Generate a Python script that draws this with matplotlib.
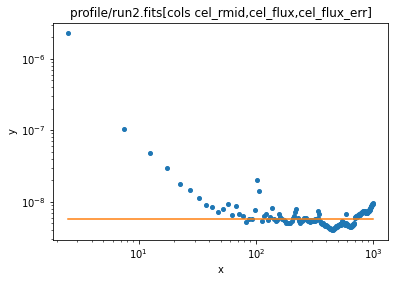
import numpy as np
import matplotlib
matplotlib.use("Agg")
import matplotlib.pyplot as plt

# bin centres (cel_rmid): 5 px wide annuli starting at 0
rmid = np.arange(2.5, 1000.0, 5.0)

# cel_flux, in units of 1e-9
flux_e9 = [
    2300, 105, 48, 29.5, 17.6, 14.8, 11.1, 8.9, 8.5, 7.1,       # 2.5 - 47.5
    8.0, 9.4, 6.6, 8.6, 6.8, 6.4, 5.2, 5.7, 5.8, 7.6,           # 52.5 - 97.5
    20.0, 13.9, 5.4, 6.3, 6.8, 5.5, 6.2, 8.2, 5.8, 5.4,         # 102.5 - 147.5
    5.6, 6.8, 6.1, 5.7, 5.5, 5.4, 5.1, 5.0, 5.0, 5.1,           # 152.5 - 197.5
    5.3, 5.9, 6.3, 7.2, 8.0, 6.0, 5.3, 5.0, 5.3, 5.4,           # 202.5 - 247.5
    5.6, 5.9, 5.7, 5.9, 5.6, 5.3, 5.3, 5.5, 5.2, 5.4,           # 252.5 - 297.5
    5.6, 5.3, 5.5, 5.7, 5.4, 5.6, 5.8, 6.0, 7.3, 6.8,           # 302.5 - 347.5
    5.4, 5.1, 5.0, 4.9, 4.85, 5.0, 4.7, 4.75, 4.6, 4.65,        # 352.5 - 397.5
    4.55, 4.5, 4.4, 4.45, 4.3, 4.25, 4.15, 4.1, 4.2, 4.0,       # 402.5 - 447.5
    4.05, 4.1, 4.2, 4.25, 4.3, 4.35, 4.4, 4.5, 4.45, 4.6,       # 452.5 - 497.5
    4.55, 4.7, 4.75, 4.65, 4.8, 4.85, 4.75, 4.9, 5.2, 5.3,      # 502.5 - 547.5
    5.0, 5.15, 5.1, 4.9, 4.8, 4.85, 4.7, 5.0, 6.7, 4.9,         # 552.5 - 597.5
    4.75, 4.7, 4.6, 4.65, 4.55, 4.5, 4.6, 4.45, 4.5, 4.4,       # 602.5 - 647.5
    4.55, 4.5, 4.6, 4.65, 4.7, 4.75, 4.8, 4.9, 5.0, 5.9,        # 652.5 - 697.5
    6.1, 6.0, 6.2, 6.1, 6.3, 6.2, 6.4, 6.3, 6.5, 6.4,           # 702.5 - 747.5
    6.5, 6.6, 6.5, 6.7, 6.6, 6.8, 6.7, 6.9, 7.0, 6.9,           # 752.5 - 797.5
    7.1, 7.0, 7.2, 7.1, 7.3, 7.2, 7.4, 7.3, 7.2, 7.4,           # 802.5 - 847.5
    7.3, 7.1, 7.2, 7.0, 6.9, 7.0, 6.9, 7.1, 7.0, 7.2,           # 852.5 - 897.5
    7.3, 7.2, 7.4, 7.5, 7.4, 7.6, 7.7, 7.6, 7.8, 7.9,           # 902.5 - 947.5
    8.1, 8.3, 8.4, 8.6, 8.8, 8.9, 9.1, 9.2, 9.4, 9.5,           # 952.5 - 997.5
]

# flat background level (orange line)
bkg_level = 5.67e-9

title = "profile/run2.fits[cols cel_rmid,cel_flux,cel_flux_err]"

flux = np.array(flux_e9) * 1e-9

fig = plt.figure(figsize=(394 / 72, 282 / 72), dpi=72)
ax = fig.add_axes([53 / 394, 1 - 240 / 282, 335 / 394, 217 / 282])

ax.plot(rmid, flux, "o", markersize=4, linestyle="none", color="C0")
ax.plot(rmid, np.full(len(rmid), bkg_level), color="C1")

ax.set_xscale("log")
ax.set_yscale("log")
ax.set_xlabel("x")
ax.set_ylabel("y")
ax.set_title(title)

fig.savefig("out.png", dpi=72)
